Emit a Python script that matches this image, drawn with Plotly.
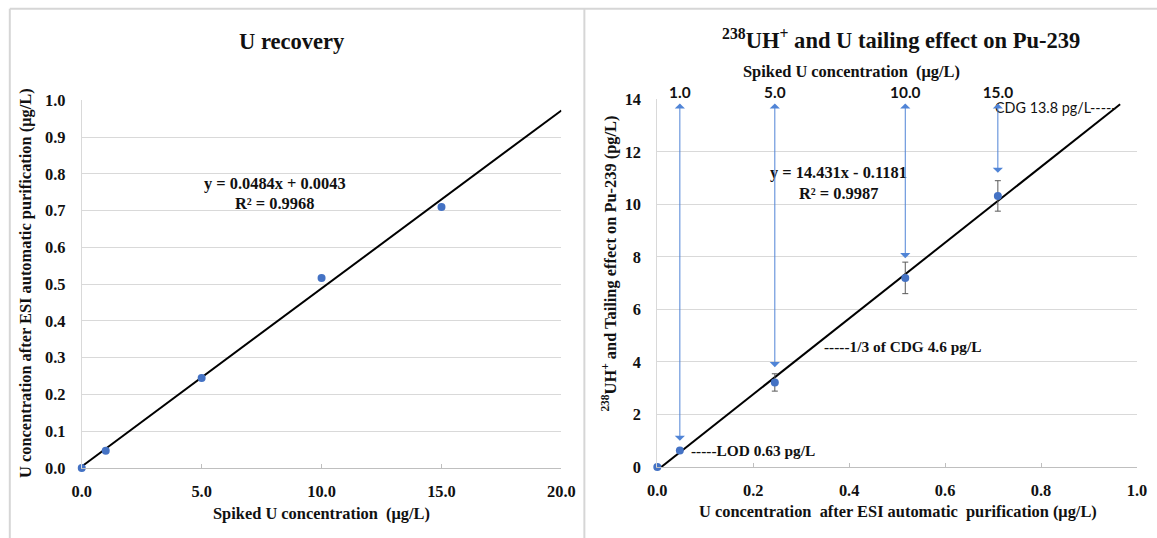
import plotly.graph_objects as go

# ---------------- data ----------------
spiked_u = [0.0, 1.0, 5.0, 10.0, 15.0]                 # µg/L spiked
u_after = [0.0, 0.047, 0.245, 0.517, 0.71]             # µg/L after ESI purification
tailing = [0.0, 0.63, 3.22, 7.2, 10.32]                # pg/L effect on Pu-239
tailing_err = [0.0, 0.0, 0.33, 0.6, 0.58]

left_fit = [0.0484, 0.0043]      # slope, intercept
left_r2 = 0.9968
left_fit_x = [0.0, 20.0]
right_fit = [14.431, -0.1181]
right_r2 = 0.9987
right_fit_end = 0.965

top_tick_labels = ["1.0", "5.0", "10.0", "15.0"]
arrow_bottom = [1.0, 3.8, 7.95, 11.2]
arrow_top = 13.9

W, H = 1157, 538
SERIF = "Liberation Serif"
SANS = "Lato"
BLUE = "#4472C4"
ARROW = "#5084D6"
GRID = "#D9D9D9"
AXIS = "#BFBFBF"
TXT = "#111111"
FS = 1.025  # font compensation for the page being scaled into the window

def px(x):
    return ((x - 8.2) / 0.98) / W

def py(y):
    return 1 - ((y - 7.2) / 0.9705) / H

def f(s):
    return s * FS

fig = go.Figure()

# ---- left panel ----
fig.add_trace(go.Scatter(
    x=left_fit_x, y=[left_fit[0] * v + left_fit[1] for v in left_fit_x],
    mode="lines", line=dict(color="black", width=2), xaxis="x", yaxis="y",
    showlegend=False, hoverinfo="skip"))
fig.add_trace(go.Scatter(
    x=spiked_u, y=u_after, mode="markers",
    marker=dict(color=BLUE, size=8), xaxis="x", yaxis="y",
    showlegend=False, cliponaxis=False))

# ---- right panel ----
rx = [-right_fit[1] / right_fit[0], right_fit_end]
fig.add_trace(go.Scatter(
    x=rx, y=[right_fit[0] * v + right_fit[1] for v in rx],
    mode="lines", line=dict(color="black", width=2), xaxis="x2", yaxis="y2",
    showlegend=False, hoverinfo="skip"))
fig.add_trace(go.Scatter(
    x=u_after, y=tailing, mode="markers",
    marker=dict(color=BLUE, size=8),
    error_y=dict(type="data", array=tailing_err, color="#595959", thickness=1, width=3),
    xaxis="x2", yaxis="y2", showlegend=False, cliponaxis=False))
# invisible trace for top axis
fig.add_trace(go.Scatter(x=u_after[1:], y=tailing[1:], mode="markers",
                         marker=dict(opacity=0), xaxis="x3", yaxis="y2",
                         showlegend=False, hoverinfo="skip"))

tickfont = dict(family=SERIF, size=f(16), color=TXT, weight="bold")

fig.update_layout(
    width=W, height=H, margin=dict(l=0, r=0, t=0, b=0),
    paper_bgcolor="white", plot_bgcolor="white",
    xaxis=dict(domain=[px(80), px(560)], range=[0, 20], tickvals=[0, 5, 10, 15, 20],
               tickformat=".1f", showgrid=False, zeroline=False, showline=True,
               linecolor=AXIS, linewidth=1, ticks="inside", ticklen=4, tickcolor=AXIS,
               tickfont=tickfont, ticklabelstandoff=8, anchor="y"),
    yaxis=dict(domain=[py(469), py(99)], range=[0, 1], dtick=0.1, tickformat=".1f",
               showgrid=True, gridcolor=GRID, gridwidth=1, zeroline=False,
               showline=True, linecolor=GRID, linewidth=1, ticks="",
               tickfont=tickfont, ticklabelstandoff=12, anchor="x"),
    xaxis2=dict(domain=[px(656), px(1136)], range=[0, 1], dtick=0.2, tickformat=".1f",
                showgrid=False, zeroline=False, showline=True, linecolor=AXIS,
                linewidth=1, ticks="inside", ticklen=4, tickcolor=AXIS,
                tickfont=tickfont, ticklabelstandoff=8, anchor="y2"),
    xaxis3=dict(overlaying="x2", side="top", range=[0, 1], tickvals=u_after[1:],
                ticktext=top_tick_labels, showgrid=False, zeroline=False,
                showline=False, ticks="", anchor="y2", ticklabelstandoff=-3,
                tickfont=dict(family=SANS, size=f(15), color=TXT, weight="bold")),
    yaxis2=dict(domain=[py(468), py(98)], range=[0, 14], dtick=2,
                showgrid=True, gridcolor=GRID, gridwidth=1, zeroline=False,
                showline=True, linecolor=GRID, linewidth=1, ticks="",
                tickfont=tickfont, ticklabelstandoff=12, anchor="x2"),
)

ann = []

def txt(x, y, s, size=16, angle=0, family=SERIF, xanchor="center", xref="paper", yref="paper", weight="bold"):
    ann.append(dict(x=x, y=y, xref=xref, yref=yref, text=s, showarrow=False,
                    xanchor=xanchor, yanchor="middle", textangle=angle,
                    font=dict(family=family, size=f(size), color=TXT, weight=weight)))

# left texts
txt(px(290), py(40), "U recovery", size=22)
txt(px(273), py(183), f"y = {left_fit[0]:.4f}x + {left_fit[1]:.4f}")
txt(px(273), py(203), f"R² = {left_r2:.4f}")
txt(px(320), py(515), "Spiked U concentration  (μg/L)")
txt(px(23), py(283), "U concentration after ESI automatic purification (μg/L)", angle=-90)

# right texts
txt(px(900), py(37), "<sup>238</sup>UH<sup>+</sup> and U tailing effect on Pu-239", size=22)
txt(px(850), py(70), "Spiked U concentration  (μg/L)")
txt(px(837), py(172), f"y = {right_fit[0]:.3f}x - {abs(right_fit[1]):.4f}")
txt(px(837), py(193), f"R² = {right_r2:.4f}")
txt(px(897), py(513), "U concentration  after ESI automatic  purification (μg/L)")
txt(px(608), py(263), "<sup>238</sup>UH<sup>+</sup> and Tailing effect on Pu-239 (pg/L)", angle=-90)

txt(0.0667, 0.63, "-----LOD 0.63 pg/L", size=15, xanchor="left", xref="x2", yref="y2")
txt(0.344, 4.58, "-----1/3 of CDG 4.6 pg/L", size=15, xanchor="left", xref="x2", yref="y2")
txt(0.700, 13.68, "CDG 13.8 pg/L-----", size=14, family=SANS, xanchor="left",
    xref="x2", yref="y2", weight="normal")

# double arrows
for xv, yb in zip(u_after[1:], arrow_bottom):
    ann.append(dict(x=xv, y=yb, ax=xv, ay=arrow_top, xref="x2", yref="y2",
                    axref="x2", ayref="y2", text="", showarrow=True,
                    arrowside="end+start", arrowhead=1, startarrowhead=1,
                    arrowsize=1.7, startarrowsize=1.7, arrowwidth=1,
                    arrowcolor=ARROW, standoff=0, startstandoff=0))

fig.update_layout(annotations=ann)

# panel borders
border = dict(color="#D6D6D6", width=2)
fig.add_shape(type="line", xref="paper", yref="paper", x0=px(8), x1=px(1160), y0=py(7), y1=py(7), line=border)
fig.add_shape(type="line", xref="paper", yref="paper", x0=px(8), x1=px(8), y0=py(545), y1=py(7), line=border)
fig.add_shape(type="line", xref="paper", yref="paper", x0=px(583), x1=px(583), y0=py(545), y1=py(7), line=border)

fig.write_html("out.html")
